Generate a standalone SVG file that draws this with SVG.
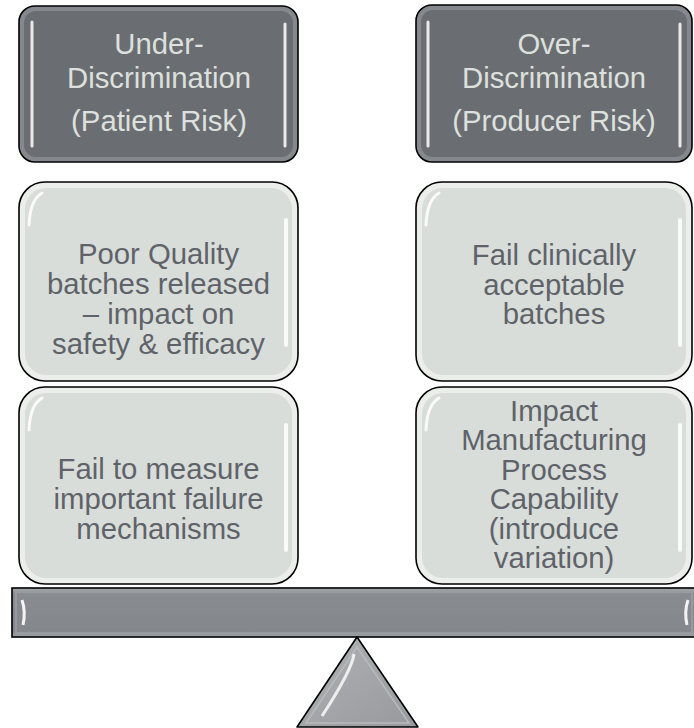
<svg xmlns="http://www.w3.org/2000/svg" width="694" height="728" viewBox="0 0 694 728">
<defs>
<style>
.dark{fill:#85888c;stroke:#000;stroke-width:1.6}
.darkin{fill:#6a6d71}
.light{fill:#eceeec;stroke:#000;stroke-width:1.6}
.lightin{fill:#d9ddda}
.hl{fill:none;stroke:#fff;stroke-linecap:round;opacity:0.85}
.t1{font-family:"Liberation Sans",Arial,sans-serif;font-size:29.3px;fill:#dde0dd;text-anchor:middle}
.t2{font-family:"Liberation Sans",Arial,sans-serif;font-size:29.3px;fill:#5f6369;text-anchor:middle}
</style>
<linearGradient id="beamG" x1="0" y1="0" x2="0" y2="1">
<stop offset="0" stop-color="#a7aaad"/>
<stop offset="0.12" stop-color="#888b8f"/>
<stop offset="0.88" stop-color="#84878b"/>
<stop offset="1" stop-color="#a4a7aa"/>
</linearGradient>
<linearGradient id="triG" x1="0" y1="0" x2="1" y2="1">
<stop offset="0" stop-color="#b0b2b4"/>
<stop offset="1" stop-color="#97999c"/>
</linearGradient>
</defs>

<g id="under">
<rect class="dark" x="19" y="6" width="279" height="156" rx="16"/>
<rect class="darkin" x="24" y="11" width="269" height="146" rx="12"/>
<line class="hl" x1="32" y1="22" x2="32" y2="146" stroke-width="3" opacity="0.6"/>
<line class="hl" x1="285" y1="24" x2="285" y2="146" stroke-width="3" opacity="0.6"/>
<text class="t1" x="159" y="54">Under-</text>
<text class="t1" x="159" y="88">Discrimination</text>
<text class="t1" x="159" y="131">(Patient Risk)</text>
</g>

<g id="over">
<rect class="dark" x="416" y="5" width="276" height="157" rx="16"/>
<rect class="darkin" x="421" y="10" width="266" height="147" rx="12"/>
<line class="hl" x1="428" y1="22" x2="428" y2="146" stroke-width="3" opacity="0.6"/>
<line class="hl" x1="680" y1="24" x2="680" y2="146" stroke-width="3" opacity="0.6"/>
<text class="t1" x="554" y="54">Over-</text>
<text class="t1" x="554" y="88">Discrimination</text>
<text class="t1" x="554" y="131">(Producer Risk)</text>
</g>

<g id="poor-quality">
<rect class="light" x="19" y="182" width="279" height="199" rx="26"/>
<rect class="lightin" x="25" y="188" width="267" height="187" rx="21"/>
<path class="hl" d="M29 225 Q30 200 42 193" stroke-width="3"/>
<line class="hl" x1="286" y1="220" x2="286" y2="345" stroke-width="4" opacity="0.7"/>
<text class="t2" x="158.5" y="264">Poor Quality</text>
<text class="t2" x="158.5" y="294">batches released</text>
<text class="t2" x="158.5" y="324">– impact on</text>
<text class="t2" x="158.5" y="354">safety &amp; efficacy</text>
</g>

<g id="fail-clinically">
<rect class="light" x="416" y="182" width="276" height="199" rx="26"/>
<rect class="lightin" x="422" y="188" width="264" height="187" rx="21"/>
<path class="hl" d="M426 225 Q427 200 439 193" stroke-width="3"/>
<line class="hl" x1="680" y1="220" x2="680" y2="345" stroke-width="4" opacity="0.7"/>
<text class="t2" x="554" y="265">Fail clinically</text>
<text class="t2" x="554" y="295">acceptable</text>
<text class="t2" x="554" y="324">batches</text>
</g>

<g id="fail-measure">
<rect class="light" x="19" y="387" width="279" height="197" rx="26"/>
<rect class="lightin" x="25" y="393" width="267" height="185" rx="21"/>
<path class="hl" d="M29 430 Q30 405 42 398" stroke-width="3"/>
<line class="hl" x1="286" y1="425" x2="286" y2="550" stroke-width="4" opacity="0.7"/>
<text class="t2" x="158.5" y="479">Fail to measure</text>
<text class="t2" x="158.5" y="509">important failure</text>
<text class="t2" x="158.5" y="539">mechanisms</text>
</g>

<g id="impact-manufacturing">
<rect class="light" x="416" y="387" width="276" height="197" rx="26"/>
<rect class="lightin" x="422" y="393" width="264" height="185" rx="21"/>
<path class="hl" d="M426 430 Q427 405 439 398" stroke-width="3"/>
<line class="hl" x1="680" y1="425" x2="680" y2="550" stroke-width="4" opacity="0.7"/>
<text class="t2" x="554" y="420.5">Impact</text>
<text class="t2" x="554" y="450">Manufacturing</text>
<text class="t2" x="554" y="479.5">Process</text>
<text class="t2" x="554" y="509">Capability</text>
<text class="t2" x="554" y="538.5">(introduce</text>
<text class="t2" x="554" y="568">variation)</text>
</g>

<g id="beam">
<rect x="12" y="588" width="684" height="49" fill="url(#beamG)" stroke="#000" stroke-width="1.6"/>
<rect x="16" y="592" width="676" height="41" fill="none" stroke="#9c9fa2" stroke-width="1.5"/>
<path d="M22 600 Q26 612 23 625" fill="none" stroke="#fff" stroke-width="3" opacity="0.9"/>
<path d="M688 600 Q684 612 687 625" fill="none" stroke="#fff" stroke-width="3" opacity="0.9"/>
</g>

<g id="fulcrum">
<polygon points="357,637 297,727 418,727" fill="url(#triG)" stroke="#000" stroke-width="1.6" stroke-linejoin="round"/>
<polygon points="357,647 306,723 409,723" fill="none" stroke="#b8babc" stroke-width="1.5"/>
<path d="M354 654 Q352 670 322 716" fill="none" stroke="#fff" stroke-width="3" opacity="0.8"/>
</g>

<g id="connectors"></g>
</svg>
